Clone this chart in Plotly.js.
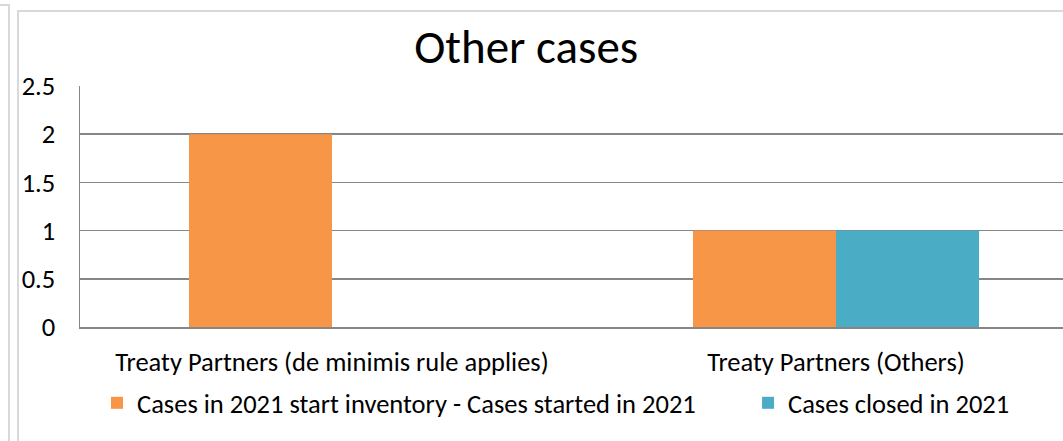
<!DOCTYPE html>
<html>
<head>
<meta charset="utf-8">
<script src="https://cdn.plot.ly/plotly-3.0.1.min.js"></script>
<style>
  html, body { margin:0; padding:0; background:#fff; overflow:hidden; }
  #wrap { position:relative; width:1063px; height:441px; }
  #b1 { position:absolute; left:0; top:4px; width:8px; height:440px; border-top:2px solid #d9d9d9; border-right:2px solid #d9d9d9; }
  #b2 { position:absolute; left:17px; top:10px; width:1100px; height:440px; border-top:2px solid #d9d9d9; border-left:2px solid #d9d9d9; }
  #chart { position:absolute; left:0; top:0; }
</style>
</head>
<body>
<div id="wrap">
  <div id="b1"></div>
  <div id="b2"></div>
  <div id="chart"></div>
</div>
<script>
const categories = ["Treaty Partners (de minimis rule applies)", "Treaty Partners (Others)"];
const seriesNames = ["Cases in 2021 start inventory - Cases started in 2021", "Cases closed in 2021"];
const startedValues = [2, 1];
const closedValues = [0, 1];
const yTicks = [0, 0.5, 1, 1.5, 2, 2.5];
const yTickLabels = ["0", "0.5", "1", "1.5", "2", "2.5"];

const FONT = "Carlito, Lato, 'Open Sans', sans-serif";

const data = [
  { type:"bar", name:seriesNames[0], x:categories, y:startedValues, marker:{color:"#F79646"}, hoverinfo:"skip", legend:"legend" },
  { type:"bar", name:seriesNames[1], x:categories, y:closedValues, marker:{color:"#4BACC6"}, hoverinfo:"skip", legend:"legend2" }
];

const legendFont = {family:FONT, size:26.5, color:"#000"};

const layout = {
  width:1063, height:441,
  margin:{l:80, r:0, t:86, b:114, pad:0, autoexpand:false},
  paper_bgcolor:"rgba(0,0,0,0)",
  plot_bgcolor:"rgba(0,0,0,0)",
  font:{family:FONT, color:"#000", size:26.5},
  title:{text:"Other cases", font:{family:FONT, size:47, color:"#000"}, x:0.495, xanchor:"center", y:0.895, yanchor:"middle"},
  barmode:"group",
  bargap:0.4325,
  bargroupgap:0,
  xaxis:{
    type:"category",
    range:[-0.5, 1.4504],
    showgrid:false,
    showline:true, linecolor:"#868686", linewidth:1.5,
    ticks:"", ticklabelstandoff:11,
    tickfont:{family:FONT, size:26.5, color:"#000"},
    fixedrange:true
  },
  yaxis:{
    range:[0, 2.5],
    tickvals:yTicks, ticktext:yTickLabels,
    showgrid:true, gridcolor:"#868686", gridwidth:1.5,
    showline:true, linecolor:"#868686", linewidth:1.5,
    zeroline:false,
    ticks:"", ticklabelstandoff:18,
    tickfont:{family:FONT, size:26.5, color:"#000"},
    fixedrange:true
  },
  showlegend:true,
  legend:{
    orientation:"h",
    xref:"paper", x:0.0173, xanchor:"left",
    yref:"container", y:0.086, yanchor:"middle",
    font:legendFont, itemwidth:30,
    bgcolor:"rgba(0,0,0,0)"
  },
  legend2:{
    orientation:"h",
    xref:"paper", x:0.6796, xanchor:"left",
    yref:"container", y:0.086, yanchor:"middle",
    font:legendFont, itemwidth:30,
    bgcolor:"rgba(0,0,0,0)"
  }
};

Plotly.newPlot("chart", data, layout, {displayModeBar:false, staticPlot:true});
</script>
</body>
</html>
